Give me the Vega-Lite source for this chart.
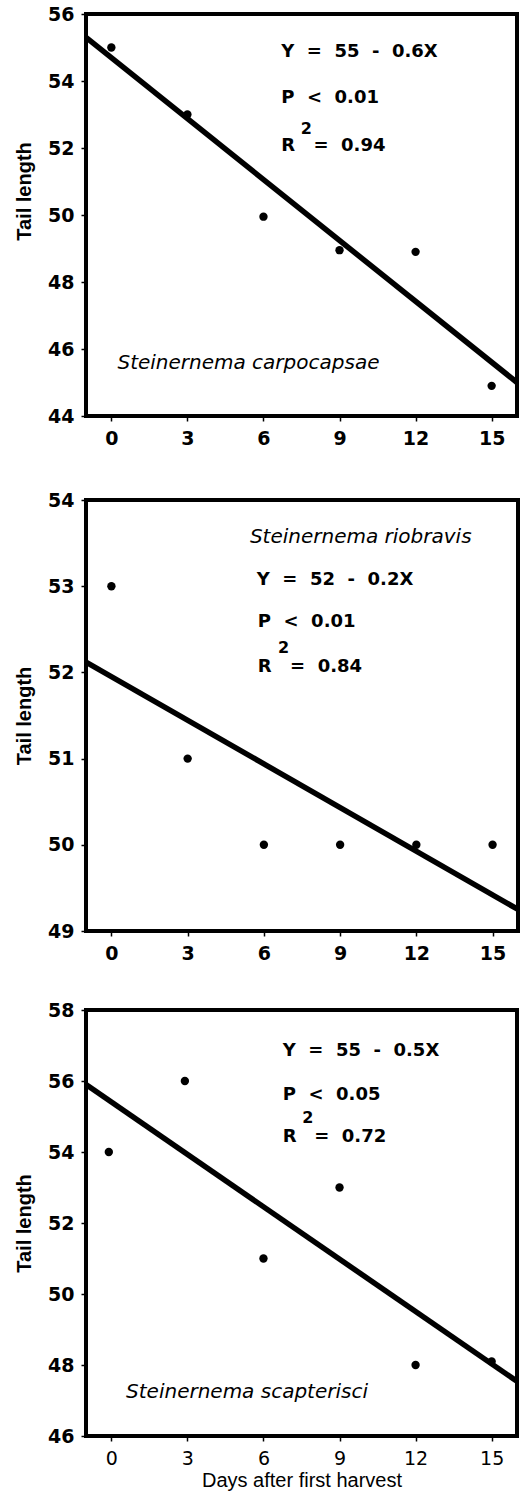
{
  "$schema": "https://vega.github.io/schema/vega-lite/v6.json",
  "padding": {"left": 12, "top": 3, "right": 5, "bottom": 3},
  "config": {
    "font": "DejaVu Sans",
    "view": {"stroke": "black", "strokeWidth": 4},
    "axis": {"domain": false, "grid": false, "ticks": true, "tickColor": "black", "tickSize": 5, "tickWidth": 1.5,
      "labelColor": "black", "labelFont": "DejaVu Sans", "labelFontSize": 19, "labelFontWeight": "bold",
      "titleColor": "black", "titleFont": "Liberation Sans", "titleFontSize": 20, "titleFontWeight": "bold"},
    "axisX": {"labelPadding": 8},
    "axisY": {"labelPadding": 7, "titlePadding": 13},
    "text": {"font": "DejaVu Sans", "color": "black", "align": "left", "baseline": "middle"}
  },
  "spacing": 34,
  "vconcat": [
    {
      "spacing": 39,
      "vconcat": [
        {
          "width": 431, "height": 402,
          "encoding": {
            "x": {"field": "day", "type": "quantitative", "scale": {"domain": [-1, 16], "nice": false, "zero": false}, "axis": {"values": [0, 3, 6, 9, 12, 15], "title": null}},
            "y": {"field": "tail", "type": "quantitative", "scale": {"domain": [44, 56], "nice": false, "zero": false}, "axis": {"values": [44, 46, 48, 50, 52, 54, 56], "title": "Tail length", "titleY": 177}}
          },
          "layer": [
            {"data": {"values": [{"day": 0, "tail": 55}, {"day": 3, "tail": 53}, {"day": 6, "tail": 49.95}, {"day": 9, "tail": 48.95}, {"day": 12, "tail": 48.9}, {"day": 15, "tail": 44.9}]},
             "mark": {"type": "circle", "size": 70, "color": "black", "opacity": 1}},
            {"data": {"values": [{"day": -1, "tail": 55.3}, {"day": 16, "tail": 45.0}]},
             "mark": {"type": "line", "color": "black", "strokeWidth": 5.5}},
            {"data": {"values": [{"day": 6.7, "tail": 54.88, "label": "Y\u00a0\u00a0=\u00a0\u00a055\u00a0\u00a0-\u00a0\u00a00.6X"}, {"day": 6.7, "tail": 53.49, "label": "P\u00a0\u00a0<\u00a0\u00a00.01"}, {"day": 6.7, "tail": 52.07, "label": "R"}, {"day": 7.97, "tail": 52.07, "label": "=\u00a0\u00a00.94"}]},
             "mark": {"type": "text", "fontSize": 18, "fontWeight": "bold"},
             "encoding": {"text": {"field": "label"}}},
            {"data": {"values": [{"day": 7.47, "tail": 52.56, "label": "2"}]},
             "mark": {"type": "text", "fontSize": 16, "fontWeight": "bold"},
             "encoding": {"text": {"field": "label"}}},
            {"data": {"values": [{"day": 0.24, "tail": 45.59, "label": "Steinernema carpocapsae"}]},
             "mark": {"type": "text", "fontSize": 20, "fontStyle": "italic"},
             "encoding": {"text": {"field": "label"}}}
          ]
        },
        {
          "width": 432, "height": 431,
          "encoding": {
            "x": {"field": "day", "type": "quantitative", "scale": {"domain": [-1, 16], "nice": false, "zero": false}, "axis": {"values": [0, 3, 6, 9, 12, 15], "title": null}},
            "y": {"field": "tail", "type": "quantitative", "scale": {"domain": [49, 54], "nice": false, "zero": false}, "axis": {"values": [49, 50, 51, 52, 53, 54], "title": "Tail length"}}
          },
          "layer": [
            {"data": {"values": [{"day": 0, "tail": 53}, {"day": 3, "tail": 51}, {"day": 6, "tail": 50}, {"day": 9, "tail": 50}, {"day": 12, "tail": 50}, {"day": 15, "tail": 50}]},
             "mark": {"type": "circle", "size": 70, "color": "black", "opacity": 1}},
            {"data": {"values": [{"day": -1, "tail": 52.12}, {"day": 16, "tail": 49.25}]},
             "mark": {"type": "line", "color": "black", "strokeWidth": 5.5}},
            {"data": {"values": [{"day": 5.72, "tail": 53.07, "label": "Y\u00a0\u00a0=\u00a0\u00a052\u00a0\u00a0-\u00a0\u00a00.2X"}, {"day": 5.76, "tail": 52.58, "label": "P\u00a0\u00a0<\u00a0\u00a00.01"}, {"day": 5.76, "tail": 52.06, "label": "R"}, {"day": 7.03, "tail": 52.06, "label": "=\u00a0\u00a00.84"}]},
             "mark": {"type": "text", "fontSize": 18, "fontWeight": "bold"},
             "encoding": {"text": {"field": "label"}}},
            {"data": {"values": [{"day": 6.56, "tail": 52.28, "label": "2"}]},
             "mark": {"type": "text", "fontSize": 16, "fontWeight": "bold"},
             "encoding": {"text": {"field": "label"}}},
            {"data": {"values": [{"day": 5.45, "tail": 53.57, "label": "Steinernema riobravis"}]},
             "mark": {"type": "text", "fontSize": 20, "fontStyle": "italic"},
             "encoding": {"text": {"field": "label"}}}
          ]
        }
      ]
    },
    {
      "width": 431, "height": 426,
      "encoding": {
        "x": {"field": "day", "type": "quantitative", "scale": {"domain": [-1, 16], "nice": false, "zero": false}, "axis": {"values": [0, 3, 6, 9, 12, 15], "title": "Days after first harvest", "labelFontWeight": "normal", "titleFontWeight": "normal", "titleFontSize": 20, "titlePadding": 2}},
        "y": {"field": "tail", "type": "quantitative", "scale": {"domain": [46, 58], "nice": false, "zero": false}, "axis": {"values": [46, 48, 50, 52, 54, 56, 58], "title": "Tail length"}}
      },
      "layer": [
        {"data": {"values": [{"day": -0.1, "tail": 54}, {"day": 2.9, "tail": 56}, {"day": 6, "tail": 51}, {"day": 9, "tail": 53}, {"day": 12, "tail": 48}, {"day": 15, "tail": 48.1}]},
         "mark": {"type": "circle", "size": 70, "color": "black", "opacity": 1}},
        {"data": {"values": [{"day": -1, "tail": 55.9}, {"day": 16, "tail": 47.54}]},
         "mark": {"type": "line", "color": "black", "strokeWidth": 5.5}},
        {"data": {"values": [{"day": 6.76, "tail": 56.85, "label": "Y\u00a0\u00a0=\u00a0\u00a055\u00a0\u00a0-\u00a0\u00a00.5X"}, {"day": 6.76, "tail": 55.61, "label": "P\u00a0\u00a0<\u00a0\u00a00.05"}, {"day": 6.76, "tail": 54.42, "label": "R"}, {"day": 8.0, "tail": 54.42, "label": "=\u00a0\u00a00.72"}]},
         "mark": {"type": "text", "fontSize": 18, "fontWeight": "bold"},
         "encoding": {"text": {"field": "label"}}},
        {"data": {"values": [{"day": 7.53, "tail": 54.96, "label": "2"}]},
         "mark": {"type": "text", "fontSize": 16, "fontWeight": "bold"},
         "encoding": {"text": {"field": "label"}}},
        {"data": {"values": [{"day": 0.58, "tail": 47.25, "label": "Steinernema scapterisci"}]},
         "mark": {"type": "text", "fontSize": 20, "fontStyle": "italic"},
         "encoding": {"text": {"field": "label"}}}
      ]
    }
  ]
}
